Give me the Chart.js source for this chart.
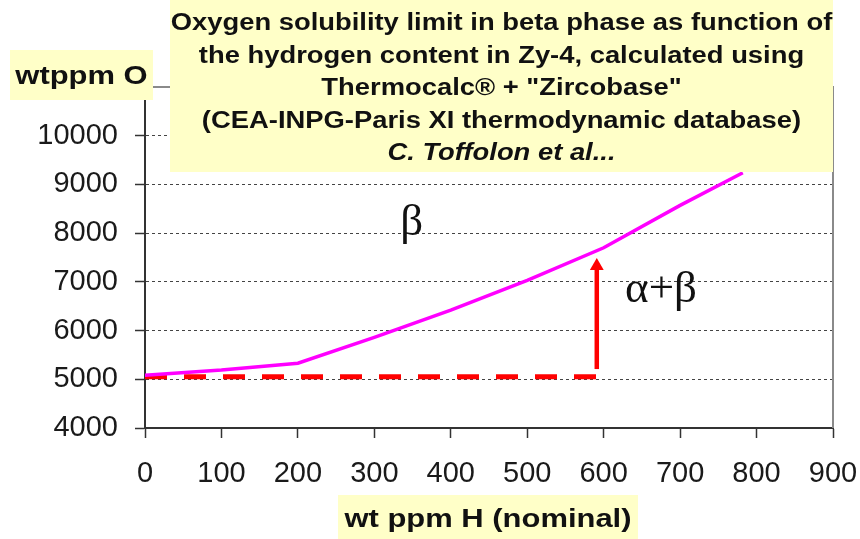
<!DOCTYPE html>
<html>
<head>
<meta charset="utf-8">
<script src="https://cdn.jsdelivr.net/npm/chart.js@4.4.1/dist/chart.umd.min.js"></script>
<style>
  body { margin: 0; background: #fff; }
  #wrap { position: relative; width: 860px; height: 539px; overflow: hidden; }
  .note {
    position: absolute; background: #ffffc8; color: #111;
    font-family: "Liberation Sans", Arial, sans-serif; font-weight: bold;
  }
  .stretch { position: absolute; text-align: center; transform: scaleX(1.19); transform-origin: center; white-space: nowrap; }
</style>
</head>
<body>
<div id="wrap">
  <canvas id="solChart" width="860" height="539"></canvas>

  <!-- title box over the plot -->
  <div class="note" style="left:170px; top:0; width:663px; height:172px;">
    <div class="stretch" style="left:50px; top:6px; width:563px; font-size:23px; line-height:32.5px;">
      <div>Oxygen solubility limit in beta phase as function of</div>
      <div>the hydrogen content in Zy-4, calculated using</div>
      <div>Thermocalc® + "Zircobase"</div>
      <div>(CEA-INPG-Paris XI thermodynamic database)</div>
      <div style="font-style:italic;">C. Toffolon et al...</div>
    </div>
  </div>

  <!-- axis titles -->
  <div class="note" style="left:10px; top:50px; width:143px; height:50px;">
    <div class="stretch" style="left:0; top:9px; width:143px; font-size:26px; line-height:32px;">wtppm O</div>
  </div>
  <div class="note" style="left:338px; top:495px; width:300px; height:44px;">
    <div class="stretch" style="left:0; top:7px; width:300px; font-size:26px; line-height:32px;">wt ppm H (nominal)</div>
  </div>
</div>

<script>
// solubility limit curve (beta / alpha+beta boundary)
const hContent = [0, 100, 200, 300, 400, 500, 600, 700, 782];
const oxygenLimit = [5085, 5190, 5330, 5860, 6420, 7030, 7700, 8570, 9240];

// nominal oxygen level (dashed) and arrow
const nominalX = [0, 591];
const nominalO = [5050, 5050];
const arrowX = [591, 591];
const arrowO = [5210, 7290];
const arrowTip = 7325;

// phase labels
const phaseText = ["β", "α+β"];
const phaseX = [349, 675];
const phaseO = [7961, 6592];

const xTicks = [0, 100, 200, 300, 400, 500, 600, 700, 800, 900];
const yTicks = [4000, 5000, 6000, 7000, 8000, 9000, 10000, 11000];

function pts(xs, ys) {
  return xs.map((x, i) => ({ x: x, y: ys[i] }));
}

// gray frame on top / right of the plot area
const framePlugin = {
  id: "frame",
  beforeDatasetsDraw(chart) {
    const a = chart.chartArea;
    const ctx = chart.ctx;
    ctx.save();
    ctx.strokeStyle = "#8a8a8a";
    ctx.lineWidth = 2;
    ctx.beginPath();
    ctx.moveTo(a.left, a.top);
    ctx.lineTo(a.right, a.top);
    ctx.lineTo(a.right, a.bottom);
    ctx.stroke();
    ctx.restore();
  }
};

// greek phase labels placed in data coordinates
const phaseLabels = {
  id: "phaseLabels",
  afterDatasetsDraw(chart) {
    const ctx = chart.ctx;
    const xs = chart.scales.x, ys = chart.scales.y;
    ctx.save();
    ctx.fillStyle = "#111";
    ctx.font = '45px "Liberation Serif", "Times New Roman", serif';
    ctx.textAlign = "center";
    ctx.textBaseline = "alphabetic";
    phaseText.forEach((t, i) => {
      ctx.fillText(t, xs.getPixelForValue(phaseX[i]), ys.getPixelForValue(phaseO[i]));
    });
    ctx.restore();
  }
};

const tickFont = { family: '"Liberation Sans", Arial, sans-serif', size: 29 };

new Chart(document.getElementById("solChart"), {
  type: "scatter",
  data: {
    datasets: [
      {
        data: pts(hContent, oxygenLimit),
        showLine: true,
        borderColor: "#ff00ff",
        borderWidth: 3.5,
        pointRadius: 0,
        tension: 0
      },
      {
        data: pts(nominalX, nominalO),
        showLine: true,
        borderColor: "#ff0000",
        borderWidth: 5,
        borderDash: [22, 17],
        borderCapStyle: "butt",
        pointRadius: 0
      },
      {
        data: pts(arrowX, arrowO),
        showLine: true,
        borderColor: "#ff0000",
        borderWidth: 4.5,
        pointRadius: 0
      },
      {
        data: [{ x: arrowX[1], y: arrowTip }],
        pointStyle: "triangle",
        pointRadius: 8,
        pointBackgroundColor: "#ff0000",
        pointBorderWidth: 0
      }
    ]
  },
  options: {
    responsive: false,
    animation: false,
    layout: { padding: { top: 87, right: 27, left: 0, bottom: 0 } },
    plugins: {
      legend: { display: false },
      tooltip: { enabled: false }
    },
    scales: {
      x: {
        type: "linear",
        min: 0,
        max: 900,
        afterBuildTicks: (s) => { s.ticks = xTicks.map(v => ({ value: v })); },
        afterFit: (s) => { s.height = 111; s.paddingLeft = 0; s.paddingRight = 0; },
        ticks: { font: tickFont, color: "#1a1a1a", padding: 19, maxRotation: 0 },
        grid: { drawOnChartArea: false, drawTicks: true, tickLength: 10, tickColor: "#333", tickWidth: 1.5 },
        border: { color: "#333", width: 2 }
      },
      y: {
        min: 4000,
        max: 11000,
        afterBuildTicks: (s) => { s.ticks = yTicks.map(v => ({ value: v })); },
        afterFit: (s) => { s.width = 145; s.paddingTop = 0; s.paddingBottom = 0; },
        ticks: { font: tickFont, color: "#1a1a1a", padding: 17, callback: (v) => String(v) },
        grid: { color: "#444", lineWidth: 1, tickLength: 10, tickColor: "#333", tickWidth: 1.5, tickBorderDash: [] },
        border: { color: "#333", width: 2, dash: [3, 3] }
      }
    }
  },
  plugins: [framePlugin, phaseLabels]
});
</script>
</body>
</html>
